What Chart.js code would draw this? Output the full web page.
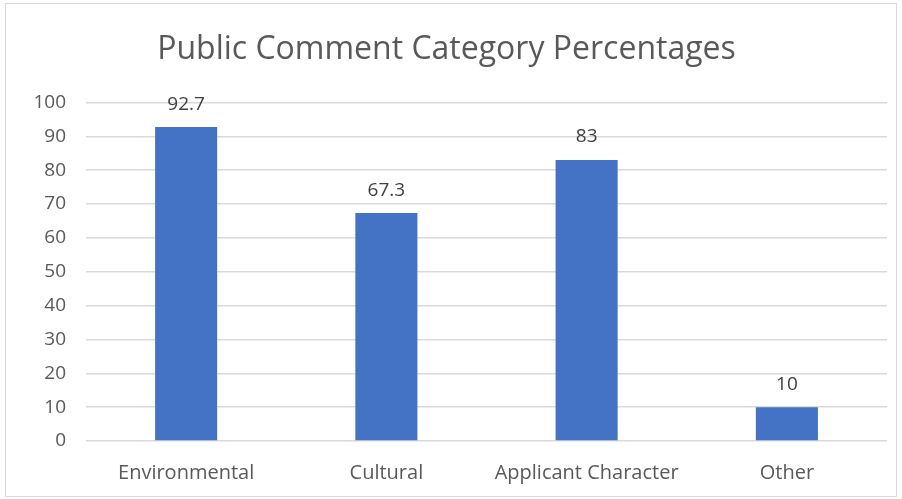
<!DOCTYPE html>
<html>
<head>
<meta charset="utf-8">
<script src="https://cdn.jsdelivr.net/npm/chart.js@4/dist/chart.umd.min.js"></script>
<style>
  html, body { margin: 0; padding: 0; background: #fff; }
  #box {
    position: absolute; left: 5px; top: 3px;
    width: 890px; height: 492px;
    border: 1px solid #d9d9d9;
  }
</style>
</head>
<body>
<div id="box"><canvas id="myChart"></canvas></div>
<script>
const categories = ["Environmental", "Cultural", "Applicant Character", "Other"];
const percentages = [92.7, 67.3, 83, 10];
const yTicks = [0, 10, 20, 30, 40, 50, 60, 70, 80, 90, 100];

const FONT = "'Open Sans', 'Liberation Sans', sans-serif";

// value labels above each bar
const barLabels = {
    id: "barLabels",
    afterDatasetsDraw(chart) {
        const ctx = chart.ctx;
        const meta = chart.getDatasetMeta(0);
        ctx.save();
        ctx.font = "19px " + FONT;
        ctx.fillStyle = "#404040";
        ctx.textAlign = "center";
        ctx.textBaseline = "middle";
        meta.data.forEach((bar, i) => {
            ctx.fillText(String(percentages[i]), bar.x, bar.y - 23);
        });
        ctx.restore();
    },
};

const ctx = document.getElementById("myChart");
// eslint-disable-next-line no-unused-vars
const myChart = new Chart(ctx, {
    type: "bar",
    data: {
        labels: categories,
        datasets: [
            {
                data: percentages,
                backgroundColor: "#4472C4",
                barPercentage: 0.62,
                categoryPercentage: 0.5,
            },
        ],
    },
    options: {
        responsive: true,
        maintainAspectRatio: false,
        animation: false,
        layout: { padding: { left: 0, right: 9, top: 0, bottom: 0 } },
        plugins: {
            legend: { display: false },
            tooltip: { enabled: false },
            title: {
                display: true,
                text: "Public Comment Category Percentages",
                color: "#595959",
                font: { family: FONT, size: 32, weight: "normal" },
                padding: { top: 27, bottom: 33 },
            },
        },
        scales: {
            y: {
                min: 0,
                max: 100,
                afterBuildTicks(scale) {
                    scale.ticks = yTicks.map((v) => ({ value: v }));
                },
                afterFit(scale) {
                    scale.width = 80;
                },
                border: { display: false },
                grid: { color: "#d9d9d9", lineWidth: 1.5, drawTicks: false },
                ticks: {
                    padding: 20,
                    color: "#595959",
                    font: { family: FONT, size: 19 },
                },
            },
            x: {
                afterFit(scale) {
                    scale.height = 55;
                },
                border: { display: false },
                grid: { display: false },
                ticks: {
                    padding: 12,
                    color: "#595959",
                    font: { family: FONT, size: 20 },
                    maxRotation: 0,
                },
            },
        },
    },
    plugins: [barLabels],
});
</script>
</body>
</html>
